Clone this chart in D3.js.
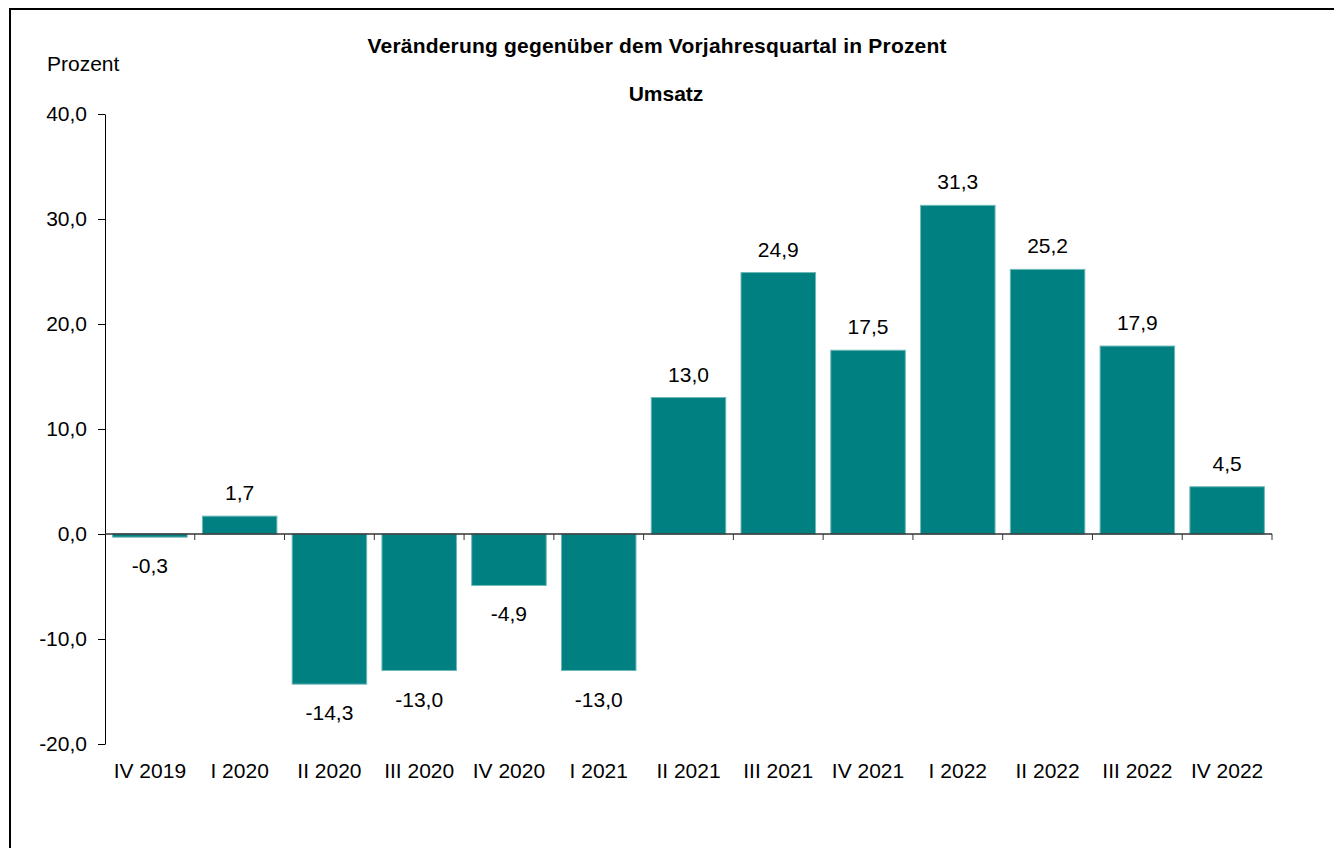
<!DOCTYPE html>
<html lang="de">
  <head>
    <meta charset="utf-8" />
    <title>Umsatz - Veränderung gegenüber dem Vorjahresquartal</title>
    <script src="https://cdnjs.cloudflare.com/ajax/libs/d3/7.8.5/d3.min.js"></script>
    <style type="text/css">
      body {
        margin: 0;
        background: #fff;
      }
      svg {
        font-family: "Liberation Sans", Arial, sans-serif;
      }
      .bar {
        fill: #008080;
        stroke: #6fb8b8;
        stroke-width: 1;
      }
      .valueLabel {
        font-size: 21px;
        fill: #000;
      }
      .axis text {
        font-size: 21px;
        fill: #000;
      }
    </style>
  </head>

  <body>
    <div id="playground"></div>

    <script>
      // data
      const quarters = [
        "IV 2019", "I 2020", "II 2020", "III 2020", "IV 2020", "I 2021",
        "II 2021", "III 2021", "IV 2021", "I 2022", "II 2022", "III 2022", "IV 2022"
      ];
      const umsatz = [-0.3, 1.7, -14.3, -13.0, -4.9, -13.0, 13.0, 24.9, 17.5, 31.3, 25.2, 17.9, 4.5];
      const yTicks = [-20, -10, 0, 10, 20, 30, 40];

      const width = 1334;
      const height = 848;
      const marginTop = 114;
      const marginLeft = 105;
      const plotRight = 1272;
      const plotBottom = 744;

      // German decimal comma, plain hyphen as minus
      const fmt = (v) => d3.format(".1f")(v).replace(".", ",").replace("\u2212", "-");

      const svg = d3
        .select("#playground")
        .append("svg")
        .attr("width", width)
        .attr("height", height)
        .attr("viewBox", [0, 0, width, height]);

      // outer frame
      svg.append("rect")
        .attr("x", 10)
        .attr("y", 9)
        .attr("width", width + 20)
        .attr("height", height + 20)
        .attr("fill", "none")
        .attr("stroke", "#000")
        .attr("stroke-width", 2);

      const x = d3.scaleBand()
        .domain(quarters)
        .range([marginLeft, plotRight])
        .paddingInner(0.17)
        .paddingOuter(0.085);

      const y = d3.scaleLinear()
        .domain([-20, 40])
        .range([plotBottom, marginTop]);

      // titles
      svg.append("text")
        .attr("x", 657)
        .attr("y", 53)
        .attr("text-anchor", "middle")
        .attr("font-size", 21)
        .attr("font-weight", "bold")
        .attr("textLength", 579)
        .text("Veränderung gegenüber dem Vorjahresquartal in Prozent");

      svg.append("text")
        .attr("x", 666)
        .attr("y", 101)
        .attr("text-anchor", "middle")
        .attr("font-size", 21)
        .attr("font-weight", "bold")
        .text("Umsatz");

      svg.append("text")
        .attr("x", 47)
        .attr("y", 71)
        .attr("font-size", 21)
        .text("Prozent");

      // y axis
      svg.append("g")
        .attr("class", "y axis")
        .attr("transform", `translate(${marginLeft},0)`)
        .call(d3.axisLeft(y).tickValues(yTicks).tickFormat(fmt).tickSize(7).tickPadding(11).tickSizeOuter(0))
        .call((g) => g.selectAll("line, path").attr("stroke", "#000"));

      // bars
      svg.append("g")
        .selectAll("rect")
        .data(umsatz)
        .join("rect")
        .attr("class", "bar")
        .attr("x", (d, i) => x(quarters[i]))
        .attr("width", x.bandwidth())
        .attr("y", (d) => y(Math.max(0, d)))
        .attr("height", (d) => Math.abs(y(d) - y(0)));

      // x axis at zero with boundary ticks
      const xAxis = svg.append("g").attr("class", "x axis");
      xAxis.append("line")
        .attr("x1", marginLeft)
        .attr("x2", plotRight)
        .attr("y1", y(0))
        .attr("y2", y(0))
        .attr("stroke", "#333")
        .attr("stroke-width", 1.5);
      const step = x.step();
      xAxis.selectAll(".bound")
        .data(quarters)
        .join("line")
        .attr("class", "bound")
        .attr("x1", (d) => x(d) + x.bandwidth() + (step - x.bandwidth()) / 2)
        .attr("x2", (d) => x(d) + x.bandwidth() + (step - x.bandwidth()) / 2)
        .attr("y1", y(0))
        .attr("y2", y(0) + 6)
        .attr("stroke", "#333");

      xAxis.selectAll(".xlabel")
        .data(quarters)
        .join("text")
        .attr("class", "xlabel")
        .attr("x", (d) => x(d) + x.bandwidth() / 2)
        .attr("y", plotBottom + 34)
        .attr("text-anchor", "middle")
        .text((d) => d);

      // value labels
      svg.append("g")
        .selectAll("text")
        .data(umsatz)
        .join("text")
        .attr("class", "valueLabel")
        .attr("x", (d, i) => x(quarters[i]) + x.bandwidth() / 2)
        .attr("y", (d) => (d >= 0 ? y(d) - 16 : y(d) + 36))
        .attr("text-anchor", "middle")
        .text((d) => fmt(d));
    </script>
  </body>
</html>
